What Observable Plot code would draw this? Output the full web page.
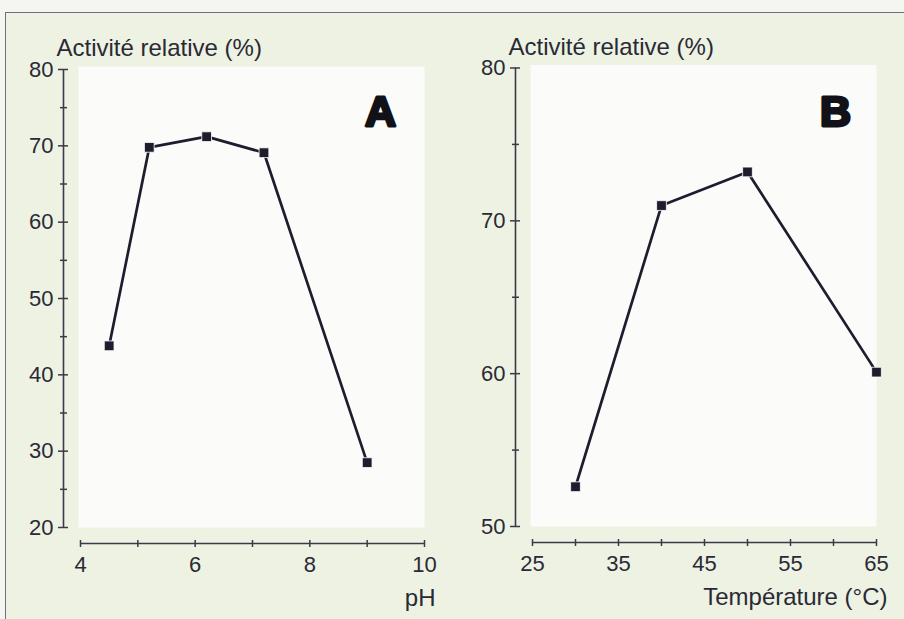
<!DOCTYPE html>
<html>
<head>
<meta charset="utf-8">
<script src="https://cdn.jsdelivr.net/npm/d3@7"></script>
<script src="https://cdn.jsdelivr.net/npm/@observablehq/plot@0.6"></script>
<style>
  html, body { margin: 0; padding: 0; background: #f5f6f1; }
  #page { position: relative; width: 904px; height: 619px; overflow: hidden; }
  #box { position: absolute; left: 5px; top: 12px; width: 899px; height: 607px;
         background: #edf2e2; border-top: 1.5px solid #6f6f82; border-left: 1.5px solid #6f6f82; }
  .panel { position: absolute; top: 0; }
  #pA { left: 0; }
  #pB { left: 452px; }
</style>
</head>
<body>
<div id="page">
  <div id="box"></div>
  <div id="pA" class="panel"></div>
  <div id="pB" class="panel"></div>
</div>
<script>
// Panel A: pH
const phValues = [4.5, 5.2, 6.2, 7.2, 9.0];
const phActivity = [43.8, 69.8, 71.2, 69.1, 28.5];
const phMajorX = [4, 6, 8, 10];
const phMinorX = [5, 7, 9];
const phMajorY = [20, 30, 40, 50, 60, 70, 80];
const phMinorY = [25, 35, 45, 55, 65, 75];

// Panel B: temperature
const tempValues = [30, 40, 50, 65];
const tempActivity = [52.6, 71.0, 73.2, 60.1];
const tempMajorX = [25, 35, 45, 55, 65];
const tempMinorX = [30, 40, 50, 60];
const tempMajorY = [50, 60, 70, 80];
const tempMinorY = [55, 65, 75];

const yLabel = "Activité relative (%)";
const xLabelA = "pH";
const xLabelB = "Température (°C)";

const FONT = "'Liberation Sans', Arial, Helvetica, sans-serif";
const INK = "#2a2a36";
const AXIS = "#3a3a4a";
const LINE = "#1d1d2e";

function panel({xs, ys, xDomain, yDomain, xMajor, xMinor, yMajor, yMinor, xLabel, letter, marginTop, marginBottom, letterDx, letterDy}) {
  const data = xs.map((x, i) => ({x, y: ys[i]}));
  return Plot.plot({
    width: 452,
    height: 619,
    marginLeft: 80,
    marginRight: 28,
    marginTop,
    marginBottom,
    style: {background: "transparent", fontFamily: FONT, color: INK, overflow: "visible"},
    x: {domain: xDomain},
    y: {domain: yDomain},
    marks: [
      Plot.frame({fill: "#fbfcf9", stroke: null, insetTop: -3, insetLeft: -2}),
      Plot.ruleX([xDomain[0]], {dx: -17, stroke: AXIS, strokeWidth: 1.6}),
      Plot.axisY({ticks: yMajor, tickSize: 10, dx: -12, tickPadding: 5, fontSize: 22, tickFormat: "d", label: null, stroke: AXIS, fill: INK, strokeWidth: 1.5}),
      Plot.axisY({ticks: yMinor, tickSize: 7, dx: -13, text: null, label: null, stroke: AXIS, strokeWidth: 1.5}),
      Plot.ruleY([yDomain[0]], {dy: 16, stroke: AXIS, strokeWidth: 1.6}),
      Plot.axisX({ticks: xMajor, tickSize: 7, dy: 13, tickPadding: 9, fontSize: 22, tickFormat: "d", label: null, stroke: AXIS, fill: INK, strokeWidth: 1.5}),
      Plot.axisX({ticks: xMinor, tickSize: 7, dy: 13, text: null, label: null, stroke: AXIS, strokeWidth: 1.5}),
      Plot.line(data, {x: "x", y: "y", stroke: LINE, strokeWidth: 2.7}),
      Plot.dot(data, {x: "x", y: "y", symbol: "square", r: 5.5, fill: LINE, stroke: "#ffffff", strokeWidth: 0.8}),
      Plot.text([yLabel], {text: d => d, frameAnchor: "top-left", lineAnchor: "middle", dx: -24, dy: -21, textAnchor: "start", fontSize: 24, fill: INK}),
      Plot.text([xLabel], {text: d => d, frameAnchor: "bottom-right", lineAnchor: "middle", dx: 11, dy: 71, textAnchor: "end", fontSize: 24, fill: INK}),
      Plot.text([letter], {text: d => d, frameAnchor: "top-right", lineAnchor: "middle", textAnchor: "middle", dx: letterDx, dy: letterDy, fontSize: 43, fontWeight: "bold", fill: "#111118", stroke: "#111118", strokeWidth: 3})
    ]
  });
}

document.getElementById("pA").append(panel({
  xs: phValues, ys: phActivity, xDomain: [4, 10], yDomain: [20, 80],
  xMajor: phMajorX, xMinor: phMinorX, yMajor: phMajorY, yMinor: phMinorY,
  xLabel: xLabelA, letter: "A", marginTop: 69, marginBottom: 92, letterDx: -44, letterDy: 43
}));
document.getElementById("pB").append(panel({
  xs: tempValues, ys: tempActivity, xDomain: [25, 65], yDomain: [50, 80],
  xMajor: tempMajorX, xMinor: tempMinorX, yMajor: tempMajorY, yMinor: tempMinorY,
  xLabel: xLabelB, letter: "B", marginTop: 67.5, marginBottom: 93, letterDx: -41, letterDy: 44.5
}));
</script>
</body>
</html>
